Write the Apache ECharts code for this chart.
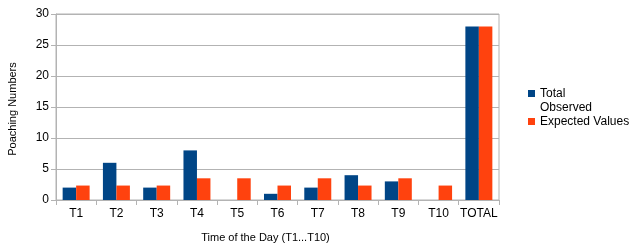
<!DOCTYPE html>
<html>
<head>
<meta charset="utf-8">
<script src="https://cdn.jsdelivr.net/npm/echarts@6/dist/echarts.min.js"></script>
<style>
html,body{margin:0;padding:0;background:#fff;}
#c{width:629px;height:244px;}
</style>
</head>
<body>
<div id="c"></div>
<script>
const categories = ['T1','T2','T3','T4','T5','T6','T7','T8','T9','T10','TOTAL'];
const totalObserved = [2,6,2,8,0,1,2,4,3,0,28];
const expectedValues = [2.33,2.33,2.33,3.5,3.5,2.33,3.5,2.33,3.5,2.33,28];
const yTicks = {min:0, max:30, interval:5};

const font = 'Liberation Sans';
const chart = echarts.init(document.getElementById('c'), null, {renderer:'canvas'});
chart.setOption({
  animation:false,
  backgroundColor:'#fff',
  grid:{left:56, right:130, top:14, bottom:44, outerBoundsMode:'none', containLabel:false,
        show:true, borderColor:'#b3b3b3', borderWidth:1, backgroundColor:'transparent'},
  legend:{
    orient:'vertical', left:528, top:70, padding:0, itemGap:-5,
    itemWidth:7, itemHeight:7, icon:'rect',
    textStyle:{fontFamily:font, fontSize:12, color:'#000', lineHeight:14, padding:[0,0,5,0]},
    formatter:function(n){ return n === 'Total Observed' ? '\nTotal\nObserved' : n; },
    data:['Total Observed','Expected Values']
  },
  xAxis:{
    type:'category', data:categories,
    name:'Time of the Day (T1...T10)', nameLocation:'middle', nameGap:32,
    nameTextStyle:{fontFamily:font, fontSize:11, color:'#000', padding:[0,24,0,0]},
    axisLine:{show:true, lineStyle:{color:'#b3b3b3', width:1}},
    axisTick:{show:true, length:5, alignWithLabel:false, lineStyle:{color:'#b3b3b3'}},
    axisLabel:{fontFamily:font, fontSize:12, color:'#000', margin:8, interval:0}
  },
  yAxis:{
    type:'value', min:yTicks.min, max:yTicks.max, interval:yTicks.interval,
    name:'Poaching Numbers', nameLocation:'middle', nameGap:38, nameRotate:90,
    nameTextStyle:{fontFamily:font, fontSize:11, color:'#000', padding:[0,4,0,0]},
    axisLine:{show:true, lineStyle:{color:'#b3b3b3', width:1}},
    axisTick:{show:true, length:5, lineStyle:{color:'#b3b3b3'}},
    axisLabel:{fontFamily:font, fontSize:12, color:'#000', margin:7},
    splitLine:{show:true, lineStyle:{color:'#b3b3b3', width:1}}
  },
  series:[
    {name:'Total Observed', type:'bar', data:totalObserved, barGap:'0%', barCategoryGap:'33%',
     itemStyle:{color:'#004586'}},
    {name:'Expected Values', type:'bar', data:expectedValues, barGap:'0%', barCategoryGap:'33%',
     itemStyle:{color:'#ff420e'}}
  ]
});
</script>
</body>
</html>
